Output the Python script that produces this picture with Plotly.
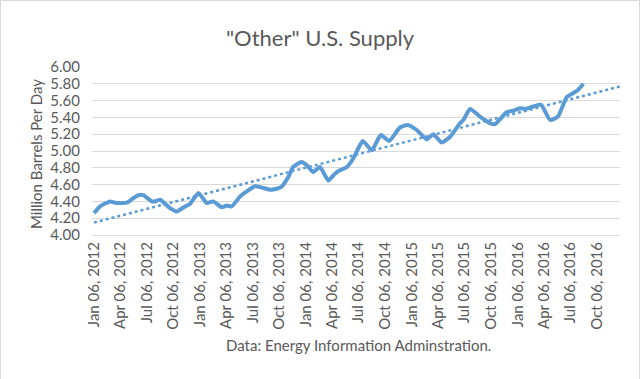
import numpy as np
import pandas as pd
import plotly.graph_objects as go

# ---- data ----
dates = [
    "2012-01-06", "2012-01-27", "2012-03-01", "2012-03-18", "2012-04-28", "2012-05-21",
    "2012-06-07", "2012-06-24", "2012-07-23", "2012-08-03", "2012-08-21", "2012-09-24",
    "2012-10-17", "2012-11-15", "2012-12-02", "2012-12-31", "2013-01-29", "2013-02-20",
    "2013-03-21", "2013-04-08", "2013-04-25", "2013-05-24", "2013-06-16", "2013-07-14",
    "2013-08-12", "2013-09-04", "2013-09-27", "2013-10-14", "2013-11-06", "2013-11-23",
    "2013-12-22", "2014-01-09", "2014-01-31", "2014-02-23", "2014-03-24", "2014-04-16",
    "2014-05-03", "2014-05-27", "2014-06-18", "2014-07-11", "2014-07-21", "2014-08-21",
    "2014-09-21", "2014-10-20", "2014-11-26", "2014-12-23", "2015-01-23", "2015-02-26",
    "2015-03-21", "2015-04-19", "2015-05-18", "2015-06-21", "2015-07-03", "2015-07-26",
    "2015-08-29", "2015-10-03", "2015-10-20", "2015-11-29", "2015-12-22", "2016-01-14",
    "2016-02-01", "2016-02-29", "2016-03-27", "2016-04-27", "2016-05-24", "2016-06-23",
    "2016-07-16", "2016-08-02", "2016-08-20",
]
supply = [
    4.26, 4.34, 4.40, 4.385, 4.385, 4.44,
    4.475, 4.475, 4.40, 4.40, 4.42, 4.32,
    4.28, 4.34, 4.37, 4.50, 4.38, 4.40,
    4.33, 4.35, 4.34, 4.46, 4.52, 4.58,
    4.56, 4.54, 4.55, 4.575, 4.69, 4.81,
    4.87, 4.83, 4.75, 4.81, 4.65, 4.73,
    4.77, 4.81, 4.91, 5.07, 5.12, 5.01,
    5.19, 5.12, 5.28, 5.31, 5.25, 5.14,
    5.20, 5.10, 5.17, 5.33, 5.37, 5.50,
    5.41, 5.33, 5.32, 5.46, 5.48, 5.51,
    5.50, 5.53, 5.55, 5.37, 5.41, 5.64,
    5.69, 5.73, 5.80,
]
y_ticks = [4.00, 4.20, 4.40, 4.60, 4.80, 5.00, 5.20, 5.40, 5.60, 5.80, 6.00]
x_tick_start = "2012-01-06"
x_range = ["2011-12-30", "2016-12-24"]
trend_end = "2016-12-24"

title_text = '"Other" U.S. Supply'
y_title = "Million Barrels Per Day"
source_text = "Data: Energy Information Adminstration."

# ---- linear trendline (least squares, as the spreadsheet does) ----
d = pd.to_datetime(dates)
t0 = d[0]
days = np.array([(x - t0).days for x in d], dtype=float)
slope, intercept = np.polyfit(days, np.array(supply), 1)
t_end = (pd.Timestamp(trend_end) - t0).days
trend_x = [dates[0], trend_end]
trend_y = [intercept, intercept + slope * t_end]

BLUE = "#5B9BD5"
GREY_TXT = "#595959"
GRID = "#D9D9D9"
FONT = "Lato, 'Open Sans', sans-serif"

fig = go.Figure()
fig.add_trace(go.Scatter(
    x=dates, y=supply, mode="lines",
    line=dict(color=BLUE, width=4, shape="spline", smoothing=0.5),
    showlegend=False, hoverinfo="x+y",
))
fig.add_trace(go.Scatter(
    x=trend_x, y=trend_y, mode="lines",
    line=dict(color=BLUE, width=2.5, dash="dot"),
    showlegend=False, hoverinfo="skip",
))

L, R, T, B = 92, 20, 67, 144
W, H = 640, 379
pw, ph = W - L - R, H - T - B

fig.update_layout(
    width=W, height=H,
    margin=dict(l=L, r=R, t=T, b=B, autoexpand=False),
    paper_bgcolor="white", plot_bgcolor="white",
    font=dict(family=FONT, color=GREY_TXT, size=15),
    title=dict(text=title_text, x=0.5, xref="container", xanchor="center",
               y=1 - 38 / H, yref="container", yanchor="middle",
               font=dict(size=22, color=GREY_TXT, family=FONT)),
    xaxis=dict(
        type="date", range=x_range, automargin=False,
        tick0=x_tick_start, dtick="M3", tickformat="%b %d, %Y",
        tickangle=-90, showgrid=False, zeroline=False,
        showline=True, linecolor=GRID, linewidth=1,
        ticks="", tickfont=dict(size=15, color=GREY_TXT),
    ),
    yaxis=dict(
        range=[4.0, 6.0], tickvals=y_ticks, tickformat=".2f", automargin=False,
        showgrid=True, gridcolor=GRID, gridwidth=1,
        zeroline=False, showline=False, ticks="",
        tickfont=dict(size=15, color=GREY_TXT),
        ticklabelstandoff=11,
    ),
    shapes=[dict(
        type="rect", xref="paper", yref="paper",
        x0=(0.5 - L) / pw, x1=(W - 0.5 - L) / pw,
        y0=(B - H + 0.5) / ph, y1=(ph + T - 0.5) / ph,
        line=dict(color=GRID, width=1), fillcolor="rgba(0,0,0,0)", layer="below",
    )],
    annotations=[
        dict(text=y_title, xref="paper", yref="paper",
             x=(36 - L) / pw, y=(H - B - 154) / ph, xanchor="center", yanchor="middle",
             textangle=-90, showarrow=False, font=dict(size=15, color=GREY_TXT, family=FONT)),
        dict(text=source_text, xref="paper", yref="paper",
             x=(358 - L) / pw, y=(H - B - 345) / ph, xanchor="center", yanchor="middle",
             showarrow=False, font=dict(size=15, color=GREY_TXT, family=FONT)),
    ],
)

fig.write_html(
    "out.html",
    config={"displayModeBar": False},
    post_script="document.body.style.margin='0';document.body.style.overflow='hidden';",
)
